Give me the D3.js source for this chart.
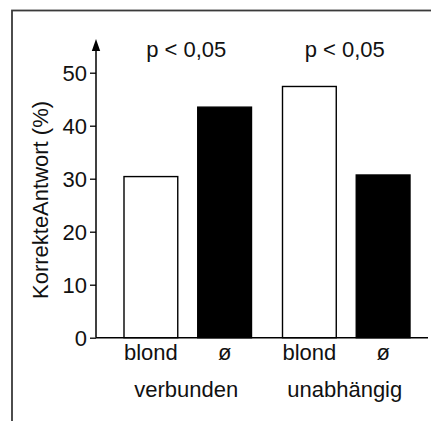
<!DOCTYPE html>
<html>
<head>
<meta charset="utf-8">
<script src="https://cdn.jsdelivr.net/npm/d3@7"></script>
<style>
  body { margin: 0; background: #fff; }
  svg text { font-family: "Liberation Sans", Arial, Helvetica, sans-serif; fill: #111; }
</style>
</head>
<body>
<svg id="chart" width="431" height="421"></svg>
<script>
// data
var groups = ["verbunden", "unabhängig"];
var barLabels = ["blond", "ø", "blond", "ø"];
var barGroup = ["verbunden", "verbunden", "unabhängig", "unabhängig"];
var values = [30.4, 43.5, 47.4, 30.7];
var fills = ["white", "black", "white", "black"];
var pLabels = ["p < 0,05", "p < 0,05"];
var yTicks = [0, 10, 20, 30, 40, 50];

var svg = d3.select("#chart");

// frame round the whole figure (runs off the right and bottom)
svg.append("rect")
  .attr("x", 12).attr("y", 10.5)
  .attr("width", 440).attr("height", 440)
  .attr("fill", "none")
  .attr("stroke", "#3a3a3a")
  .attr("stroke-width", 1.8);

var y = d3.scaleLinear().domain([0, 50]).range([337.7, 72.7]);

// outer scale for the two groups, inner for bars in a group
var xGroup = d3.scaleBand().domain(groups).range([124, 410]).paddingInner(0.1956);
var xInner = d3.scaleBand().domain([0, 1]).range([0, xGroup.bandwidth()]).paddingInner(0.271);

function barX(i) { return xGroup(barGroup[i]) + xInner(i % 2); }

// bars
svg.selectAll("rect.bar")
  .data(values)
  .enter().append("rect")
  .attr("class", "bar")
  .attr("x", function(d, i) { return barX(i); })
  .attr("y", function(d) { return y(d); })
  .attr("width", xInner.bandwidth())
  .attr("height", function(d) { return y(0) - y(d); })
  .attr("fill", function(d, i) { return fills[i]; })
  .attr("stroke", "black")
  .attr("stroke-width", 1.4);

// y axis
var yAxis = d3.axisLeft(y).tickValues(yTicks).tickSize(6).tickPadding(3);
var ga = svg.append("g").attr("transform", "translate(96,0)").call(yAxis);
ga.select(".domain").remove();
ga.selectAll(".tick line").attr("stroke", "black").attr("stroke-width", 1.3);
ga.selectAll(".tick text").attr("font-size", 22).attr("fill", "#111").attr("dy", "0.34em");

svg.append("line")
  .attr("x1", 96).attr("x2", 96)
  .attr("y1", y(0)).attr("y2", 48)
  .attr("stroke", "black").attr("stroke-width", 1.5);
svg.append("path")
  .attr("d", "M96,39 L91.8,51 L100.2,51 Z")
  .attr("fill", "black");

// x axis line
svg.append("line")
  .attr("x1", 96).attr("x2", 428)
  .attr("y1", y(0)).attr("y2", y(0))
  .attr("stroke", "black").attr("stroke-width", 1.5);

// bar labels
svg.selectAll("text.blabel")
  .data(barLabels)
  .enter().append("text")
  .attr("class", "blabel")
  .attr("x", function(d, i) { return barX(i) + xInner.bandwidth() / 2; })
  .attr("y", 360)
  .attr("text-anchor", "middle")
  .attr("font-size", 22)
  .text(function(d) { return d; });

// group labels
svg.selectAll("text.glabel")
  .data(groups)
  .enter().append("text")
  .attr("class", "glabel")
  .attr("x", function(d) { return xGroup(d) + xGroup.bandwidth() / 2 - 1.5; })
  .attr("y", 397)
  .attr("text-anchor", "middle")
  .attr("font-size", 22)
  .text(function(d) { return d; });

// significance labels
svg.selectAll("text.plabel")
  .data(pLabels)
  .enter().append("text")
  .attr("class", "plabel")
  .attr("x", function(d, i) { return xGroup(groups[i]) + xGroup.bandwidth() / 2 - 1.5; })
  .attr("y", 57)
  .attr("text-anchor", "middle")
  .attr("font-size", 22)
  .text(function(d) { return d; });

// y axis title
svg.append("text")
  .attr("transform", "translate(48,200) rotate(-90)")
  .attr("text-anchor", "middle")
  .attr("font-size", 22)
  .text("KorrekteAntwort (%)");
</script>
</body>
</html>
